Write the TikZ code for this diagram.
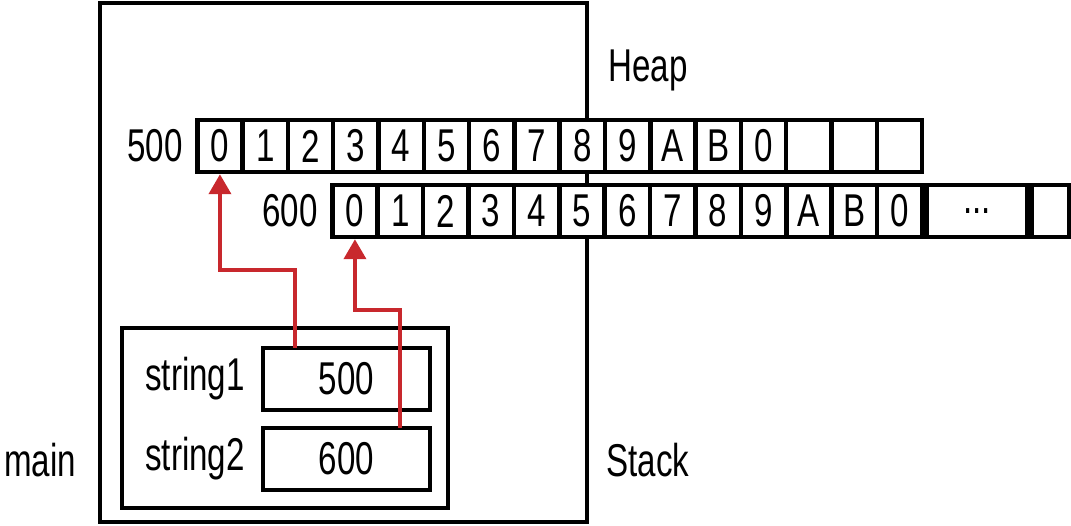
\documentclass[tikz,border=0pt]{standalone}
\usepackage{fontspec}
\setmainfont[FakeStretch=0.72]{Liberation Sans}
\usetikzlibrary{arrows.meta,positioning}
\definecolor{ptrred}{RGB}{200,40,45}
\tikzset{
  box/.style={draw,fill=white,line width=4.5pt,inner sep=0pt},
  cell/.style={box,minimum width=45.4pt,minimum height=52pt,anchor=west},
  lbl/.style={inner sep=0pt},
  ptr/.style={draw=ptrred,line width=4pt,-{Triangle[width=22pt,length=20pt]}}
}
\begin{document}
\begin{tikzpicture}[x=1pt,y=-1pt,every node/.append style={font=\fontsize{46}{48}\selectfont}]
  \useasboundingbox (0,0) rectangle (1071,526);
  % stack frame
  \draw[line width=4.5pt] (100,3) rectangle (587,522);
  \draw[line width=4.5pt] (122,328) rectangle (448,508);
  \node[lbl] (heap) at (648,70) {Heap};
  \node[lbl] (stack) at (648,460) {Stack};
  \node[lbl] (main) at (40,460) {main};
  % heap rows
  \node[lbl] (l500) at (155,146) {500};
  \foreach \t [count=\i from 0] in {0,1,2,3,4,5,6,7,8,9,A,B,0,{},{},{}}
    \node[cell] (a\i) at (195+45.3*\i,146) {\t};
  \node[lbl] (l600) at (290,211) {600};
  \foreach \t [count=\i from 0] in {0,1,2,3,4,5,6,7,8,9,A,B,0}
    \node[cell] (b\i) at (330+45.4*\i,211) {\t};
  \node[cell,minimum width=100pt] (dots) at (b12.east) {...};
  \node[cell,minimum width=38pt] (last) at (dots.east) {};
  % variables
  \node[box,minimum width=167pt,minimum height=62pt] (s1) at (346.5,379) {500};
  \node[box,minimum width=167pt,minimum height=62pt] (s2) at (346.5,459) {600};
  \node[lbl] (n1) at (195,379) {string1};
  \node[lbl] (n2) at (195,459) {string2};
  % pointers
  \coordinate (p1) at (295,348);
  \coordinate (p2) at (400,428);
  \draw[ptr] (p1) -- (295,270) -| (a0.south);
  \draw[ptr] (p2) -- (400,310) -| (b0.south);
\end{tikzpicture}
\end{document}
